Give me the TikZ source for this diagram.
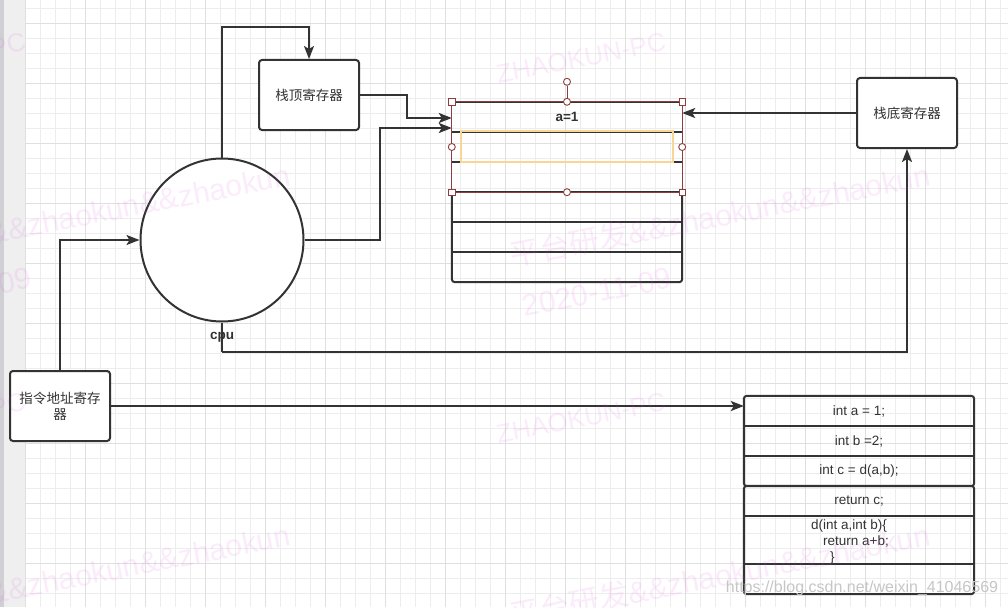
\documentclass[tikz,border=0pt]{standalone}
\usepackage{fontspec}
\setmainfont{Liberation Sans}
\newfontfamily\cjk{Noto Sans CJK SC}
\usetikzlibrary{arrows.meta, calc}
\definecolor{inkgray}{RGB}{51,51,51}
\definecolor{gridminor}{RGB}{237,237,237}
\definecolor{gridmajor}{RGB}{223,223,223}
\definecolor{stripgray}{RGB}{239,239,239}
\definecolor{stripedge}{RGB}{208,208,212}
\definecolor{selred}{RGB}{140,62,62}
\definecolor{hlyellow}{RGB}{250,214,150}
\definecolor{wmpink}{RGB}{220,80,220}
\definecolor{csdngray}{RGB}{198,198,198}
\newcommand{\boxfont}{\fontsize{13.5}{16}\selectfont}

\begin{document}
\begin{tikzpicture}[x=1pt, y=-1pt,
    dark edge/.style={draw=inkgray, line width=2pt},
    link edge/.style={dark edge, -{Stealth[length=13pt, width=10pt, inset=3pt]}},
    reg node/.style={draw=inkgray, line width=2pt, rounded corners=3pt, fill=white,
        minimum width=100pt, minimum height=70pt, inner sep=2pt,
        font=\boxfont\cjk, text=inkgray, align=center},
    cpu node/.style={circle, draw=inkgray, line width=2pt, fill=white,
        minimum size=163pt, inner sep=0pt},
    cell node/.style={minimum width=230pt, minimum height=30pt, inner sep=0pt,
        font=\boxfont, text=inkgray},
    square handle/.style={draw=selred, fill=white, line width=0.9pt,
        minimum size=6.5pt, inner sep=0pt},
    round handle/.style={circle, draw=selred, fill=white, line width=0.9pt,
        minimum size=7pt, inner sep=0pt},
    wmark/.style={text=wmpink, opacity=0.11, rotate=11, inner sep=0pt}
]

% 1. Lienzo: fondo, franja izquierda y cuadricula
\useasboundingbox (0,0) rectangle (1008,607);
\fill[white] (0,0) rectangle (1008,607);
\foreach \gx in {25.5,40.5,...,1006} { \draw[gridminor, line width=1pt] (\gx,0) -- (\gx,607); }
\foreach \gy in {8.5,23.5,...,606} { \draw[gridminor, line width=1pt] (25,\gy) -- (1008,\gy); }
\foreach \gx in {25.5,85.5,...,1006} { \draw[gridmajor, line width=1pt] (\gx,0) -- (\gx,607); }
\foreach \gy in {23.5,83.5,...,606} { \draw[gridmajor, line width=1pt] (25,\gy) -- (1008,\gy); }
\fill[stripgray] (0,0) rectangle (25,607);
\fill[stripedge] (0,0) rectangle (4,607);

% 2. Registros y cpu
\node[reg node] (topreg) at (309,95) {栈顶寄存器};
\node[reg node] (botreg) at (907,113) {栈底寄存器};
\node[reg node] (pcreg) at (60,406) {指令地址寄存\\器};
\node[cpu node] (cpu) at (222,240) {};

% 3. Pila (6 celdas)
\foreach \i in {1,...,6} { \node[cell node] (row\i) at (567,{87+30*\i}) {}; }
\draw[dark edge] (row1.north west) -- (row1.north east);
\foreach \i in {1,2,3,4,5} { \draw[dark edge] (row\i.south west) -- (row\i.south east); }
\draw[dark edge, rounded corners=3pt] (row4.north west) -- (row6.south west)
    -- (row6.south east) -- (row4.north east);
\node[font=\boxfont\bfseries, text=inkgray] (aval) at (row1) {a=1};

% 4. Lista de instrucciones
\foreach \i/\yc/\h/\txt in {1/411/30/{int a = 1;}, 2/441/30/{int b =2;},
    3/471/30/{int c = d(a,b);}, 4/501/30/{return c;}, 5/540/48/{}, 6/579/30/{}} {
    \node[cell node, minimum height=\h pt] (code\i) at (859,\yc) {\txt};
}
\foreach \i in {1,2,4,5} { \draw[dark edge] (code\i.south west) -- (code\i.south east); }
\draw[dark edge, rounded corners=3pt] (code1.north west) rectangle (code3.south east);
\draw[dark edge, rounded corners=3pt] (code4.north west) rectangle (code6.south east);
\node[font=\boxfont, text=inkgray, align=left, anchor=west, inner sep=0pt] (codefun)
    at (811,542) {d(int a,int b)\{\\\hspace*{12pt}return a+b;\\\hspace*{19pt}\}};

% 5. Conexiones
\draw[link edge] (cpu.north) -- ++(0,-130) -| (topreg.north);
\draw[link edge] (topreg.east) -- ++(47,0) |- ([yshift=-1pt]row1.west);
\draw[link edge] (cpu.east) -- ++(75,0) |- ([yshift=-11pt]row1.west);
\draw[link edge] (botreg.west) -- (botreg.west -| row1.east);
\draw[dark edge] (cpu.south) -- ++(0,29) coordinate (cpubend);
\draw[link edge] (cpubend) -| (botreg.south);
\draw[link edge] (pcreg.north) |- (cpu.west);
\draw[link edge] (pcreg.east) -- (pcreg.east -| code1.west);
\node[font=\boxfont\bfseries, text=inkgray] (cpulabel) at (222,337) {cpu};

% 6. Seleccion activa sobre las tres primeras celdas
\node[draw=hlyellow, line width=1.5pt, minimum width=212pt, minimum height=31pt,
    inner sep=0pt] (hilite) at (567,146.5) {};
\draw[selred, line width=0.9pt] (row1.north west) rectangle (row3.south east);
\node[round handle] (rothandle) at ([yshift=20pt]row1.north) {};
\draw[selred, line width=0.9pt] (rothandle) -- (row1.north);
\foreach \p [count=\k] in {row1.north west, row1.north east, row3.south west, row3.south east} {
    \node[square handle] (sq\k) at (\p) {};
}
\foreach \p [count=\k] in {row1.north, row2.west, row2.east, row3.south} {
    \node[round handle] (rd\k) at (\p) {};
}

% 7. Marcas de agua
\begin{scope}
\clip (0,0) rectangle (1008,607);
\foreach \dx in {0,-640} {
    \foreach \dy in {0,360} {
        \node[wmark, font=\fontsize{26}{26}\selectfont] (wmpc) at ({581+\dx},{58+\dy}) {ZHAOKUN-PC};
        \node[wmark, font=\fontsize{30}{30}\selectfont] (wmteam) at ({720+\dx},{215+\dy})
            {{\cjk 平台研发}\&\&zhaokun\&\&zhaokun};
        \node[wmark, font=\fontsize{30}{30}\selectfont] (wmdate) at ({597+\dx},{292+\dy}) {2020-11-09};
    }
}
\end{scope}
\node[font=\fontsize{16}{16}\selectfont, text=csdngray] (csdn) at (862,588)
    {https://blog.csdn.net/weixin\_41046569};

\end{tikzpicture}
\end{document}
